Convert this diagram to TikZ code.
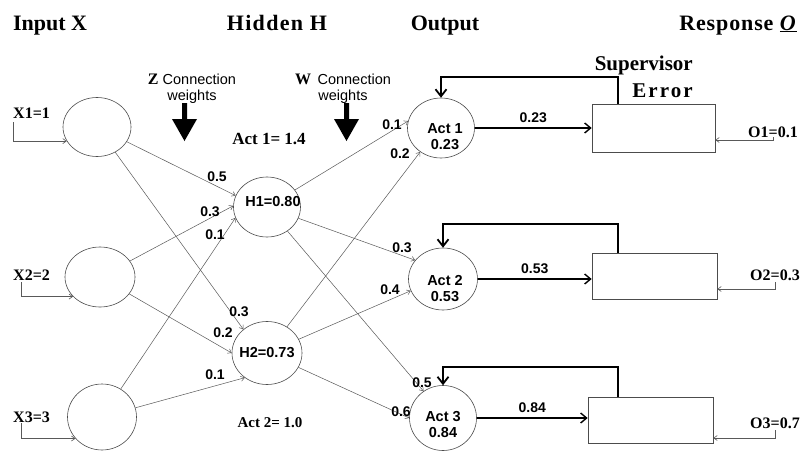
\documentclass[tikz,border=0pt]{standalone}
\usepackage{fontspec}
\setmainfont{Liberation Serif}
\setsansfont{Liberation Sans}
\usetikzlibrary{shapes.geometric,arrows.meta}
\begin{document}
\begin{tikzpicture}[x=1pt,y=-1pt,
  neuron/.style={draw=black!70, ellipse, line width=0.6pt, inner sep=0pt, minimum width=68pt, minimum height=60pt},
  errbox/.style={draw=black!70, rectangle, line width=0.6pt, inner sep=0pt},
  conn/.style={draw=black!65, line width=0.5pt, -{Straight Barb[length=3.5pt,width=5pt]}},
  thinarrow/.style={draw=black!65, line width=0.6pt, -{Straight Barb[length=3.5pt,width=5pt]}},
  outarrow/.style={draw=black, line width=1.4pt, -{Straight Barb[length=6pt,width=10pt]}},
  feedback/.style={draw=black, line width=1.8pt, -{Straight Barb[length=7pt,width=11pt]}},
  wlabel/.style={font=\sffamily\bfseries\fontsize{14}{14}\selectfont, inner sep=0pt},
  intext/.style={font=\sffamily\bfseries\fontsize{14.5}{16}\selectfont, align=center, inner sep=0pt},
  ttl/.style={font=\bfseries\fontsize{22}{24}\selectfont, inner sep=0pt, anchor=base},
  vallab/.style={font=\bfseries\fontsize{16}{18}\selectfont, inner sep=0pt},
  cwtext/.style={font=\sffamily\fontsize{14.5}{16}\selectfont, align=center, inner sep=0pt},
  suptext/.style={font=\bfseries\fontsize{21}{21}\selectfont, inner sep=0pt, anchor=base east},
]
\useasboundingbox (0,0) rectangle (804,453);
\fill[white] (0,0) rectangle (804,453);

% titles
\node[ttl] (tin) at (50,30) {Input X};
\node[ttl] (thid) at (277,30) {\addfontfeature{LetterSpace=6}Hidden H};
\node[ttl] (tout) at (445,30) {Output};
\node[ttl] (tresp) at (738,30) {\addfontfeature{LetterSpace=4}Response \underline{\textit{O}}};

% neurons
\node[neuron, minimum width=68pt, minimum height=59pt] (in1) at (97,127) {};
\node[neuron, minimum width=70pt, minimum height=60pt] (in2) at (100,277) {};
\node[neuron, minimum width=69pt, minimum height=66pt] (in3) at (102,417) {};
\node[neuron, minimum width=67pt, minimum height=60pt,
  label={[intext, xshift=6pt, yshift=5pt]center:H1=0.80}] (h1) at (267,207) {};
\node[neuron, minimum width=70pt, minimum height=63pt,
  label={[intext]center:H2=0.73}] (h2) at (267,353) {};
\node[neuron, minimum width=67pt, minimum height=60pt,
  label={[intext, xshift=4pt, yshift=-9pt]center:Act 1\\0.23}] (o1) at (441,128) {};
\node[neuron, minimum width=69pt, minimum height=62pt,
  label={[intext, xshift=2pt, yshift=-10pt]center:Act 2\\0.53}] (o2) at (443,279) {};
\node[neuron, minimum width=67pt, minimum height=65pt,
  label={[intext, xshift=0pt, yshift=-7pt]center:Act 3\\0.84}] (o3) at (443,418) {};

% error boxes
\node[errbox, minimum width=123pt, minimum height=48pt] (b1) at (653.5,128) {};
\node[errbox, minimum width=125pt, minimum height=46pt] (b2) at (654.5,276) {};
\node[errbox, minimum width=125pt, minimum height=46pt] (b3) at (650.5,420) {};

% input values
\node[vallab, anchor=base west] (x1) at (13,118) {X1=1};
\node[vallab, anchor=base west] (x2) at (13,280) {X2=2};
\node[vallab, anchor=base west] (x3) at (13,422) {X3=3};
\draw[thinarrow] ([yshift=-4pt]x1.base west) |- (in1.205);
\draw[thinarrow] ([xshift=8pt,yshift=-2pt]x2.base west) |- (in2.216);
\draw[thinarrow] ([xshift=8pt,yshift=-1pt]x3.base west) |- (in3.219);

% responses
\node[vallab, anchor=base east] (r1) at (798,137) {O1=0.1};
\node[vallab, anchor=base east] (r2) at (800,280) {O2=0.3};
\node[vallab, anchor=base east] (r3) at (800,428) {O3=0.7};
\draw[thinarrow] ([xshift=25pt]r1.base west) |- ([yshift=-12pt]b1.east);
\draw[thinarrow] ([xshift=25pt,yshift=-2pt]r2.base west) |- ([yshift=-13pt]b2.east);
\draw[thinarrow] ([xshift=25pt,yshift=-2pt]r3.base west) |- ([yshift=-18pt]b3.east);

% connection weight captions
\node[cwtext] (zcap) at (192,89) {\textrm{\bfseries\fontsize{16}{16}\selectfont Z} Connection\\weights};
\node[cwtext] (wcap) at (343,89) {\textrm{\bfseries\fontsize{16}{16}\selectfont W}\, Connection\\weights};
\fill[black] (182,103) -- (187,103) -- (187,119) -- (197,119) -- (184.5,141) -- (172,119) -- (182,119) -- cycle;
\fill[black] (344,103) -- (349,103) -- (349,119) -- (359,119) -- (346.5,141) -- (334,119) -- (344,119) -- cycle;

\node[vallab, font=\bfseries\fontsize{17}{18}\selectfont] (act1) at (269,139) {Act 1= 1.4};
\node[vallab, font=\bfseries\fontsize{15}{16}\selectfont] (act2) at (270,423) {Act 2= 1.0};

\node[suptext] (sup) at (693,70) {Supervisor};
\node[suptext] (err) at (693,97) {\addfontfeature{LetterSpace=10}Error};

% input -> hidden
\draw[conn] (in1) -- (h1.160);
\draw[conn] (in2) -- (h1.178);
\draw[conn] (in3) -- (h1.199);
\draw[conn] (in1) -- (h2.135);
\draw[conn] (in2) -- (h2.180);
\draw[conn] (in3) -- (h2.228);

% hidden -> output
\draw[conn] (h1) -- (o1.168);
\draw[conn] (h2) -- (o1.229);
\draw[conn] (h1) -- (o2.146);
\draw[conn] (h2) -- (o2.200);
\draw[conn] (h1) -- (o3.126);
\draw[conn] (h2) -- (o3.180);

% weight labels
\node[wlabel] (w11) at (217,177) {0.5};
\node[wlabel] (w21) at (210,212) {0.3};
\node[wlabel] (w31) at (215,235) {0.1};
\node[wlabel] (w12) at (239,312) {0.3};
\node[wlabel] (w22) at (223,333) {0.2};
\node[wlabel] (w32) at (215,375) {0.1};
\node[wlabel] (v11) at (392,125) {0.1};
\node[wlabel] (v21) at (400,154) {0.2};
\node[wlabel] (v12) at (402,248) {0.3};
\node[wlabel] (v22) at (390,290) {0.4};
\node[wlabel] (v13) at (422,383) {0.5};
\node[wlabel] (v23) at (401,412) {0.6};

% output -> error boxes
\draw[outarrow] (o1.east) -- (o1.east -| b1.west) node[wlabel, midway, above=5pt] (l1) {0.23};
\draw[outarrow] (o2.east) -- (o2.east -| b2.west) node[wlabel, midway, above=5pt] (l2) {0.53};
\draw[outarrow] (o3.east) -- (o3.east -| b3.west) node[wlabel, midway, above=5pt] (l3) {0.84};

% feedback
\draw[feedback] ([xshift=-35.5pt]b1.north) -- ++(0,-27) -| (o1.north);
\draw[feedback] ([xshift=-36.5pt]b2.north) -- ++(0,-29) -| (o2.north);
\draw[feedback] ([xshift=-32.5pt]b3.north) -- ++(0,-30) -| (o3.north);
\end{tikzpicture}
\end{document}
